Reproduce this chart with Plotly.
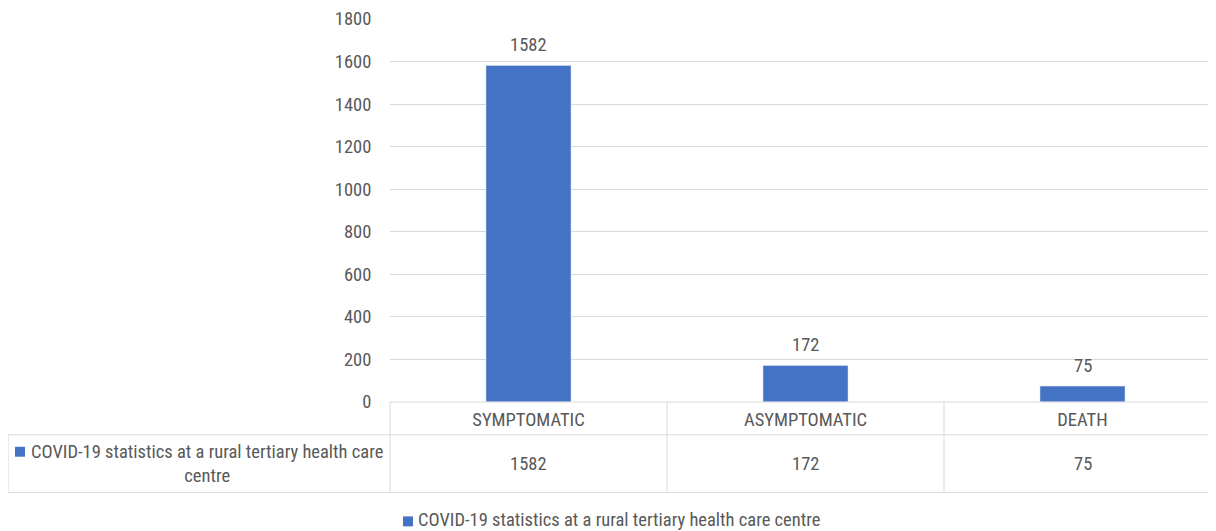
import plotly.graph_objects as go

categories = ["SYMPTOMATIC", "ASYMPTOMATIC", "DEATH"]
values = [1582, 172, 75]
series_name = "COVID-19 statistics at a rural tertiary health care centre"
y_ticks = [0, 200, 400, 600, 800, 1000, 1200, 1400, 1600, 1800]

BLUE = "#4472C4"
GRAY = "#595959"
GRID = "#D9D9D9"
FONT = "Roboto Condensed, Roboto, sans-serif"
FS = 18.5

# page has an 8px body margin; figure is sized to fit the 1216x531 window
W, H = 1208, 523
L, T, B = 382, 8, 129
plot_h = H - T - B          # 386 (1 px of headroom above the 1800 gridline)
plot_w = W - L              # 826
Y_MAX = 1800 * plot_h / 385.0

def py(p):  # page pixel y -> paper y
    return (402 - p) / plot_h

def px(p):  # page pixel x -> paper x
    return (p - 390) / plot_w

fig = go.Figure()
fig.add_trace(go.Bar(
    x=categories, y=values, name=series_name,
    marker_color=BLUE, width=0.307, showlegend=False,
))

shapes = []
line = dict(color=GRID, width=1)
shapes.append(dict(type="line", xref="paper", yref="paper", x0=0, x1=1, y0=0, y1=0, line=line))
for yy in (435, 493):
    shapes.append(dict(type="line", xref="paper", yref="paper", x0=px(8), x1=1, y0=py(yy), y1=py(yy), line=line))
shapes.append(dict(type="line", xref="paper", yref="paper", x0=px(8), x1=px(8), y0=py(435), y1=py(493), line=line))
shapes.append(dict(type="line", xref="paper", yref="paper", x0=0, x1=0, y0=0, y1=py(493), line=line))
for i in range(len(categories) - 1):
    shapes.append(dict(type="line", xref="x", yref="paper", x0=i + 0.5, x1=i + 0.5, y0=0, y1=py(493), line=line))
# legend key squares (table header and bottom legend)
shapes.append(dict(type="rect", xref="paper", yref="paper", x0=px(15), x1=px(25), y0=py(447), y1=py(457),
                   fillcolor=BLUE, line=dict(width=0)))
shapes.append(dict(type="rect", xref="paper", yref="paper", x0=px(403), x1=px(413), y0=py(517), y1=py(527),
                   fillcolor=BLUE, line=dict(width=0)))

font = dict(color=GRAY, size=FS, family=FONT)
annotations = []
for c, v in zip(categories, values):
    # data label above bar
    annotations.append(dict(x=c, y=v, xref="x", yref="y", text=str(v), showarrow=False,
                            font=font, xanchor="center", yanchor="bottom", yshift=7))
    # data table value row
    annotations.append(dict(x=c, y=py(464), xref="x", yref="paper", text=str(v), showarrow=False,
                            font=font, xanchor="center", yanchor="middle"))
annotations.append(dict(
    x=px(207), y=py(464), xref="paper", yref="paper",
    text="COVID-19 statistics at a rural tertiary health care<br>centre",
    showarrow=False, align="center", xanchor="center", yanchor="middle", font=font))
annotations.append(dict(
    x=px(416), y=py(521), xref="paper", yref="paper", text=series_name,
    showarrow=False, xanchor="left", yanchor="middle", font=font))

fig.update_layout(
    width=W, height=H,
    margin=dict(l=L, r=0, t=T, b=B),
    paper_bgcolor="white", plot_bgcolor="white",
    font=font,
    showlegend=False,
    shapes=shapes,
    annotations=annotations,
)
fig.update_xaxes(range=[-0.5, -0.5 + plot_w / 277.0], showgrid=False, showline=False,
                 ticks="outside", ticklen=1, tickcolor="rgba(0,0,0,0)", tickfont=font)
fig.update_yaxes(range=[0, Y_MAX], tickvals=y_ticks, showgrid=True, gridcolor=GRID, gridwidth=1,
                 zeroline=False, showline=False, ticks="outside", ticklen=14, tickcolor="rgba(0,0,0,0)",
                 tickfont=font, ticklabeloverflow="allow")

fig.write_html("out.html")
